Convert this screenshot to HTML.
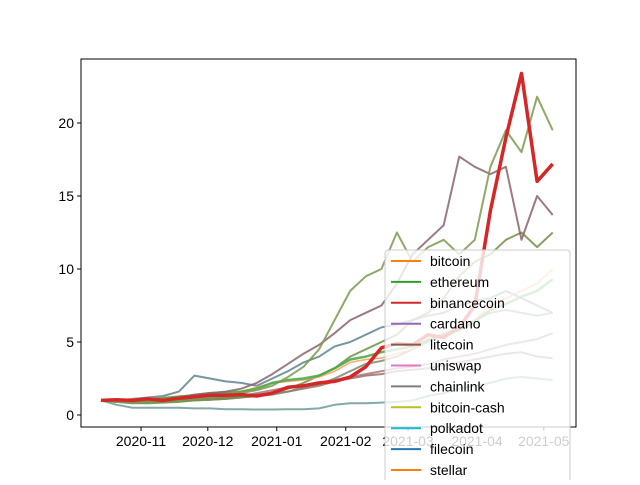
<!DOCTYPE html>
<html><head><meta charset="utf-8"><style>
body{margin:0;background:#fff}
svg{font-family:"Liberation Sans","DejaVu Sans",sans-serif}
</style></head><body>
<svg id="c" width="640" height="480" viewBox="0 0 640 480"></svg>
<script>
const xTickLabels=["2020-11","2020-12","2021-01","2021-02","2021-03","2021-04","2021-05"];
const xTickDays=[18,48,79,110,138,169,199];
const yTicks=[0,5,10,15,20];
const legendNames=["bitcoin","ethereum","binancecoin","cardano","litecoin","uniswap","chainlink","bitcoin-cash","polkadot","filecoin","stellar"];
const legendColors=["#ff7f0e","#2ca02c","#d62728","#9467bd","#8c564b","#e377c2","#7f7f7f","#bcbd22","#17becf","#1f77b4","#ff7f0e"];
const sBitcoin=[1,1.05,1.1,1.15,1.2,1.3,1.35,1.4,1.5,1.6,1.9,2.2,2.3,2.4,2.6,3.0,3.6,3.8,3.9,4.2,4.5,5.2,5.6,5.9,6.5,7.5,8.0,8.5,9.0,10.0];
const sEth=[1,1.0,1.05,1.1,1.15,1.25,1.35,1.5,1.55,1.6,1.8,2.2,2.4,2.5,2.7,3.2,3.8,4.0,4.3,4.5,4.7,5.1,5.5,5.8,6.4,7.2,7.6,8.1,8.5,9.3];
const sBnb=[1,1.05,1.0,1.1,1.0,1.15,1.25,1.35,1.35,1.4,1.3,1.5,1.9,2.0,2.2,2.3,2.6,3.3,4.6,4.9,4.8,5.5,5.3,6.0,7.5,14.0,19.0,23.4,16.0,17.2];
const sMauve=[1,0.95,1.0,1.1,1.05,1.2,1.4,1.5,1.6,1.8,2.2,2.8,3.5,4.2,4.8,5.6,6.5,7.0,7.5,9.0,11.0,12.0,13.0,17.7,17.0,16.5,17.0,12.0,15.0,13.7];
const sOlive=[1,0.9,0.85,0.9,0.95,1.0,1.1,1.2,1.3,1.5,1.7,2.0,2.6,3.3,4.5,6.5,8.5,9.5,10.0,12.5,10.5,11.5,12.0,11.0,12.0,17.0,19.5,18.0,21.8,19.5];
const sGreen2=[1,0.9,0.8,0.8,0.85,0.9,1.0,1.05,1.1,1.2,1.3,1.5,1.8,2.2,2.7,3.2,4.0,4.5,5.0,5.5,6.5,7.0,8.0,9.5,10.5,11.0,12.0,12.5,11.5,12.5];
const sBlueGrey=[1,0.95,1.1,1.2,1.3,1.6,2.7,2.5,2.3,2.2,2.0,2.5,3.0,3.6,4.0,4.7,5.0,5.5,6.0,6.2,6.5,6.8,7.0,7.5,7.8,8.0,8.5,8.0,7.5,7.0];
const sLowTeal=[1,0.7,0.5,0.5,0.5,0.5,0.45,0.45,0.4,0.4,0.38,0.38,0.4,0.4,0.45,0.7,0.8,0.8,0.85,0.9,1.0,1.3,1.5,1.8,2.0,2.2,2.5,2.6,2.5,2.4];
const sPink=[1,0.9,0.85,0.9,0.95,1.0,1.1,1.15,1.2,1.3,1.5,1.7,1.9,2.0,2.2,2.4,2.6,2.8,3.0,3.2,3.3,3.5,3.8,4.0,4.2,4.5,4.8,5.0,5.2,5.6];
const sBrown2=[1,0.95,0.9,0.95,1.0,1.05,1.1,1.15,1.25,1.3,1.4,1.5,1.6,1.8,2.0,2.3,2.5,2.7,2.8,3.0,3.1,3.2,3.4,3.6,3.8,4.0,4.2,4.3,4.0,3.9];
const sGrey=[1,0.9,0.85,0.85,0.9,0.95,1.0,1.05,1.1,1.2,1.3,1.4,1.6,1.9,2.1,2.5,3.0,3.5,3.7,4.0,4.5,5.0,5.5,6.0,6.5,7.0,7.2,7.0,6.8,7.0];
const seriesList=[sLowTeal,sPink,sBrown2,sGrey,sBlueGrey,sGreen2,sBitcoin,sEth,sMauve,sOlive,sBnb];
const seriesColors=["#6f9a98","#a7747e","#9a6e66","#7d8a70","#5e8492","#6f8f48","#ff9d50","#45a845","#8a6468","#7a9a4e","#d62728"];
const seriesWidths=[2,2,2,2,2,2,1.6,2.5,2,2,3.5];
const seriesNames=["polkadot-line","uniswap-line","litecoin-line","chainlink-line","filecoin-line","cardano-line","bitcoin-line","ethereum-line","litecoin-alt-line","bitcoin-cash-line","binancecoin-line"];
const NS="http://www.w3.org/2000/svg";
const svg=document.getElementById('c');
const L=81,R=576,T=59,B=427;
const xS=d=>101+d*2.225;
const yS=v=>415-v*14.6;
function mk(t,a,p){const e=document.createElementNS(NS,t);for(const k in a)e.setAttribute(k,a[k]);(p||svg).appendChild(e);return e;}
const g=mk('g',{});


seriesList.forEach((s,i)=>{
  const pts=s.map((v,j)=>xS(j*203/(s.length-1)).toFixed(1)+','+yS(v).toFixed(1)).join(' ');
  const pl=mk('polyline',{points:pts,fill:'none',stroke:seriesColors[i],'stroke-width':seriesWidths[i],'stroke-linejoin':'round',opacity:i==10?1:0.85},g);
  
  
});
const ax=mk('rect',{x:L,y:T,width:R-L,height:B-T,fill:'none',stroke:'#000','stroke-width':1});


xTickDays.forEach((d,i)=>{
  const x=xS(d);
  const tk=mk('line',{x1:x,x2:x,y1:B,y2:B+4,stroke:'#000'});
  
  
  const t=mk('text',{x:x,y:B+19,'font-size':14,'text-anchor':'middle'});
  t.textContent=xTickLabels[i];
  
  
});
yTicks.forEach(v=>{
  const y=yS(v);
  const tk=mk('line',{x1:L-4,x2:L,y1:y,y2:y,stroke:'#000'});
  
  
  const t=mk('text',{x:L-7,y:y+5,'font-size':14,'text-anchor':'end'});
  t.textContent=v;
  
  
});
const lg=mk('g',{});


mk('rect',{x:385,y:250,width:185,height:250,rx:3,fill:'#fff','fill-opacity':0.8,stroke:'#ccc'},lg);
legendNames.forEach((n,i)=>{
  const y=261+i*20.9;
  const e=mk('g',{},lg);
  
  
  mk('line',{x1:391,x2:421,y1:y,y2:y,stroke:legendColors[i],'stroke-width':2},e);
  const t=mk('text',{x:430,y:y+5,'font-size':14},e);
  t.textContent=n;
});
</script>
</body></html>
